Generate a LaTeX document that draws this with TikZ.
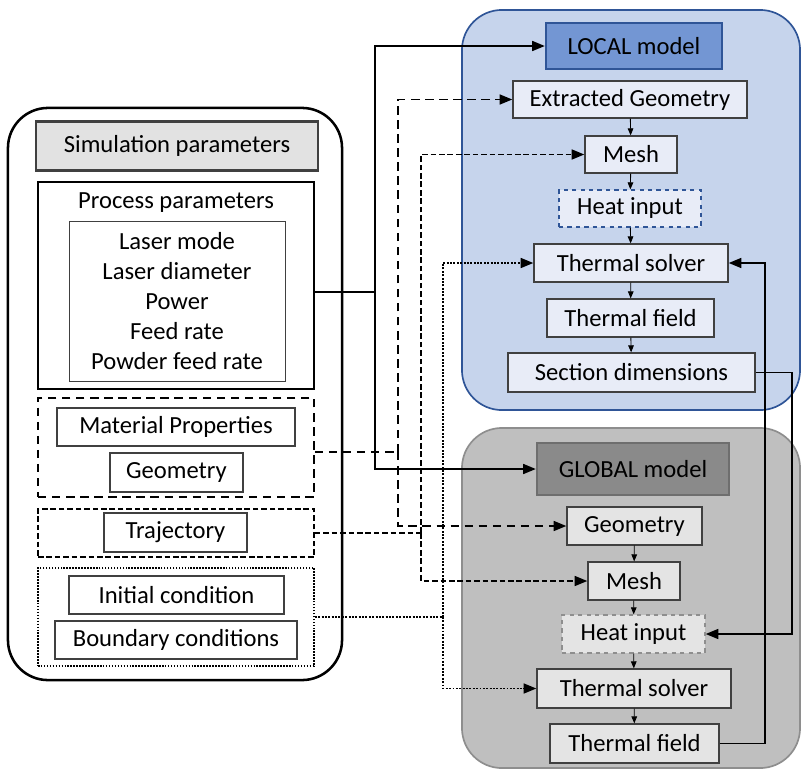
\documentclass[tikz,border=0pt]{standalone}
\usepackage{fontspec}
\setmainfont{Carlito}
\usetikzlibrary{arrows.meta,positioning}
\definecolor{locfill}{HTML}{C6D4EC}
\definecolor{locline}{HTML}{2F5597}
\definecolor{lochead}{HTML}{7396D3}
\definecolor{locbox}{HTML}{E8ECF7}
\definecolor{glofill}{HTML}{BFBFBF}
\definecolor{gloline}{HTML}{8E8E8E}
\definecolor{glohead}{HTML}{8A8A8A}
\definecolor{glohdline}{HTML}{6E6E6E}
\definecolor{globox}{HTML}{E4E4E4}
\definecolor{simhead}{HTML}{E2E2E2}
\tikzset{
  txt/.style={font=\fontsize{17.5}{21.3}\selectfont, inner sep=0pt, align=center},
  blk/.style={txt, draw=black!75, line width=0.9pt},
  lblk/.style={blk, fill=locbox},
  gblk/.style={blk, fill=globox},
  grp/.style={draw, line width=1.1pt, inner sep=0pt},
  panel/.style={rounded corners=1cm, line width=1.2pt, inner sep=0pt},
  link/.style={line width=1.4pt, -{Triangle[length=9pt,width=7pt]}},
  flowstep/.style={line width=0.6pt, -{Triangle[length=5pt,width=4pt]}},
}
\begin{document}
\begin{tikzpicture}[x=0.025cm, y=-0.025cm]
\useasboundingbox (0,0) rectangle (802,770);

% input side
\node[panel, draw, line width=1.8pt, minimum width=8.35cm, minimum height=14.3cm] (outer) at (175,394) {};
\node[blk, line width=1.8pt, fill=simhead, minimum width=7.05cm, minimum height=1.225cm] (simhdr) at (177,146) {Simulation parameters};
\node[grp, minimum width=6.9cm, minimum height=5.175cm] (proc) at (176,285.5) {};
\node[txt] (proctitle) at (176,203) {Process parameters};
\node[blk, line width=0.6pt, minimum width=5.4cm, minimum height=4cm] (plist) at (177,301)
  {Laser mode\\Laser diameter\\Power\\Feed rate\\Powder feed rate};
\node[grp, dash pattern=on 6pt off 4pt, minimum width=6.9cm, minimum height=2.475cm] (matbox) at (176,447.5) {};
\node[blk, minimum width=5.95cm, minimum height=0.95cm] (matprop) at (176,427) {Material Properties};
\node[blk, minimum width=3.325cm, minimum height=0.975cm] (geom) at (176.5,472.5) {Geometry};
\node[grp, dash pattern=on 4pt off 2pt, minimum width=6.9cm, minimum height=1.2cm] (trajbox) at (176,533) {};
\node[blk, minimum width=3.575cm, minimum height=0.975cm] (traj) at (175.5,532.5) {Trajectory};
\node[grp, densely dotted, minimum width=6.9cm, minimum height=2.45cm] (condbox) at (176,617) {};
\node[blk, minimum width=5.375cm, minimum height=0.95cm] (init) at (176.5,595) {Initial condition};
\node[blk, minimum width=6.05cm, minimum height=0.95cm] (bound) at (176,640) {Boundary conditions};

% local model
\node[panel, draw=locline, fill=locfill, minimum width=8.45cm, minimum height=10cm] (localbg) at (631,210) {};
\node[blk, draw=locline, line width=1.6pt, fill=lochead, minimum width=4.4cm, minimum height=1.15cm] (lhdr) at (634,46) {LOCAL model};
\node[lblk, minimum width=5.85cm, minimum height=0.925cm] (lgeo) at (630,99.5) {Extracted Geometry};
\node[lblk, minimum width=2.3cm, minimum height=0.925cm] (lmesh) at (631,154.5) {Mesh};
\node[lblk, draw=locline, dashed, minimum width=3.55cm, minimum height=0.925cm] (lheat) at (630,208.5) {Heat input};
\node[lblk, minimum width=4.85cm, minimum height=0.95cm] (lsolv) at (631,263) {Thermal solver};
\node[lblk, minimum width=4.175cm, minimum height=0.95cm] (lfield) at (630.5,318) {Thermal field};
\node[lblk, minimum width=6.175cm, minimum height=0.975cm] (lsect) at (631.5,372.5) {Section dimensions};

% global model
\node[panel, draw=gloline, fill=glofill, minimum width=8.45cm, minimum height=8.5cm] (globalbg) at (631,598) {};
\node[blk, draw=glohdline, line width=1.6pt, fill=glohead, minimum width=4.8cm, minimum height=1.3cm] (ghdr) at (633,469) {GLOBAL model};
\node[gblk, minimum width=3.375cm, minimum height=0.95cm] (ggeo) at (634.5,526) {Geometry};
\node[gblk, minimum width=2.3cm, minimum height=0.95cm] (gmesh) at (634,581) {Mesh};
\node[gblk, draw=gloline, dashed, minimum width=3.575cm, minimum height=0.95cm] (gheat) at (633.5,634) {Heat input};
\node[gblk, minimum width=4.85cm, minimum height=0.975cm] (gsolv) at (634,688.5) {Thermal solver};
\node[gblk, minimum width=4.225cm, minimum height=0.975cm] (gfield) at (634.5,743.5) {Thermal field};

% steps inside the models
\foreach \a/\b in {lgeo/lmesh, lmesh/lheat, lheat/lsolv, lsolv/lfield, lfield/lsect,
                   ggeo/gmesh, gmesh/gheat, gheat/gsolv, gsolv/gfield}
  \draw[flowstep] (\a) -- (\b);

% inputs to the models
\coordinate (jproc) at (375,292);
\coordinate (jmat) at (398,452);
\coordinate (jtraj) at (421,533);
\coordinate (jcond) at (443,617);
\draw[link, -] (proc.east |- jproc) -- (jproc);
\draw[link] (jproc) |- (lhdr.west);
\draw[link] (jproc) |- (ghdr.west);
\draw[link, -, dash pattern=on 6pt off 4pt] (matbox.east |- jmat) -- (jmat);
\draw[link, dash pattern=on 6pt off 4pt] (jmat) |- (lgeo.west);
\draw[link, dash pattern=on 6pt off 4pt] (jmat) |- (ggeo.west);
\draw[link, -, dash pattern=on 4pt off 2pt] (trajbox.east |- jtraj) -- (jtraj);
\draw[link, dash pattern=on 4pt off 2pt] (jtraj) |- (lmesh.west);
\draw[link, dash pattern=on 4pt off 2pt] (jtraj) |- (gmesh.west);
\draw[link, -, densely dotted] (condbox.east |- jcond) -- (jcond);
\draw[link, densely dotted] (jcond) |- (lsolv.west);
\draw[link, densely dotted] (jcond) |- (gsolv.west);

% coupling between the models
\draw[link] (lsect.east) -- (792,372.5) |- (gheat.east);
\draw[link] (gfield.east) -- (765,743.5) |- (lsolv.east);
\end{tikzpicture}
\end{document}
